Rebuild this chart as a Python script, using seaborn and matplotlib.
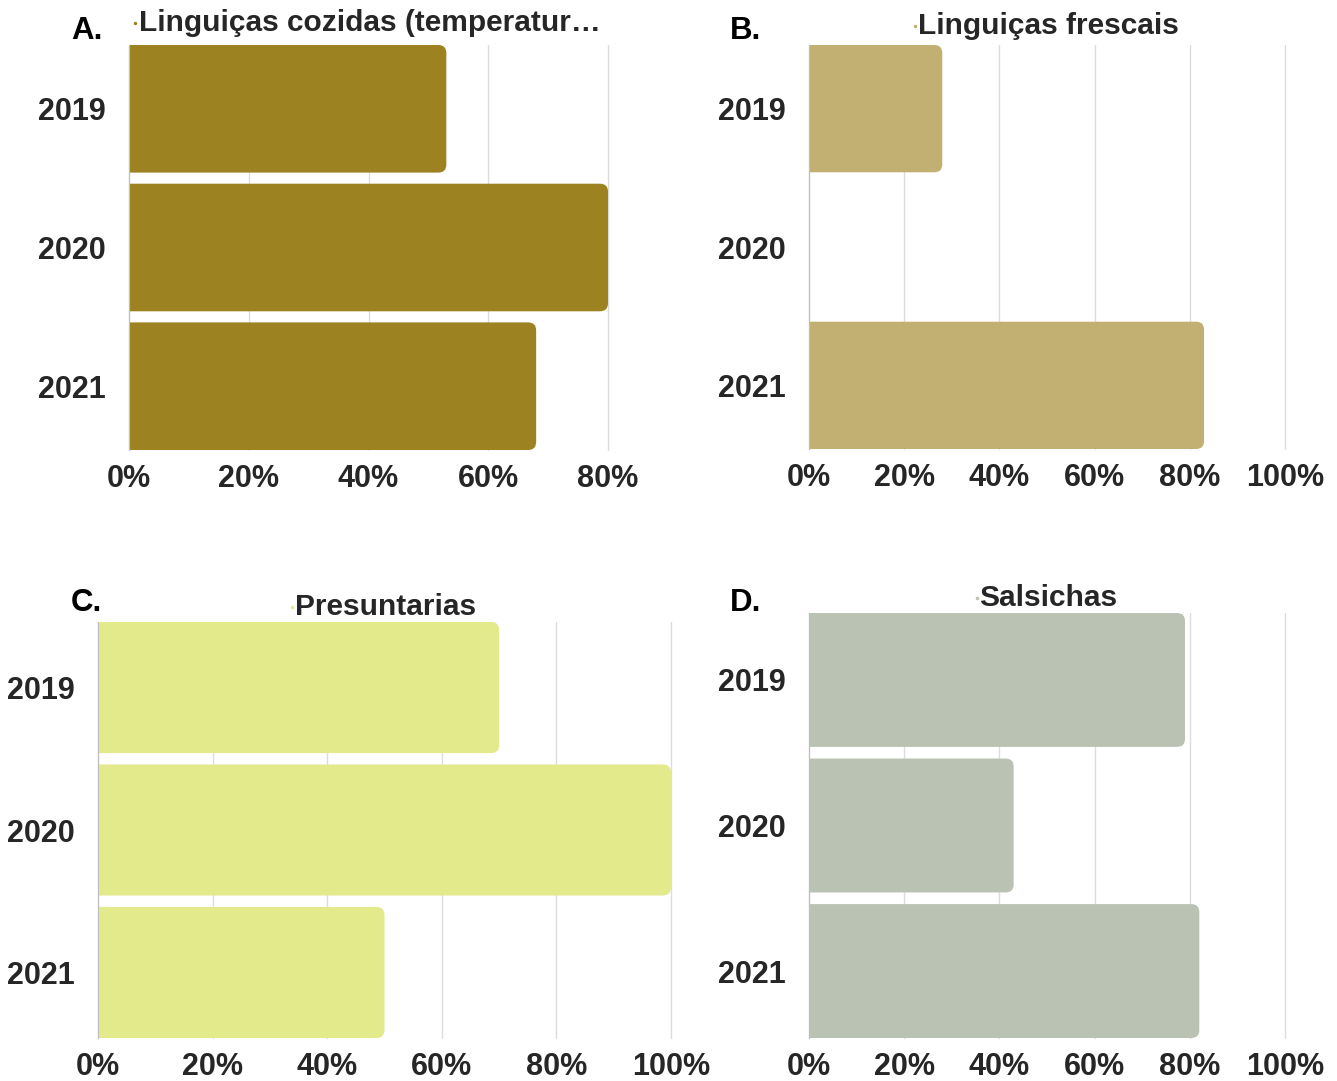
import matplotlib
matplotlib.use("Agg")
import matplotlib.pyplot as plt
import seaborn as sns
import pandas as pd
from matplotlib.patches import FancyBboxPatch
from matplotlib.lines import Line2D

years = ["2019", "2020", "2021"]

cozidas = [53, 80, 68]
frescais = [28, 0, 83]
presuntarias = [70, 100, 50]
salsichas = [79, 43, 82]

panel_letters = ["A.", "B.", "C.", "D."]
titles = ["Linguiças cozidas (temperatur…", "Linguiças frescais", "Presuntarias", "Salsichas"]
colors = ["#9c8220", "#c2b073", "#e3ea8c", "#bac3b3"]
x_max = [80, 100, 100, 100]
x_ticks = [[0, 20, 40, 60, 80], [0, 20, 40, 60, 80, 100],
           [0, 20, 40, 60, 80, 100], [0, 20, 40, 60, 80, 100]]

sns.set_theme(style="white")
plt.rcParams["font.family"] = ["Liberation Sans", "DejaVu Sans"]

W, H = 1337, 1081
fig = plt.figure(figsize=(W / 100, H / 100), dpi=100)

# axes boxes in pixels: left, top, right, bottom
boxes = [(129, 45, 608, 450), (809, 45, 1285, 449),
         (98, 622, 671, 1038), (809, 613, 1285, 1038)]
title_y = [23, 26, 607, 598]
letter_pos = [(71, 31), (730, 31), (71, 603), (730, 603)]
# small legend dot drawn just left of each title
dot_x = [135, 915, 292, 977]

series = [cozidas, frescais, presuntarias, salsichas]
text_col = "#262626"

for i, vals in enumerate(series):
    l, t, r, b = boxes[i]
    ax = fig.add_axes([l / W, 1 - b / H, (r - l) / W, (b - t) / H])
    df = pd.DataFrame({"ano": years, "valor": vals})
    sns.barplot(data=df, x="valor", y="ano", orient="h", color=colors[i],
                width=0.92, saturation=1, ax=ax, zorder=2)
    ax.set_xlim(0, x_max[i])
    ax.set_ylim(2.46, -0.46)
    ax.set_xticks(x_ticks[i])
    ax.set_xticklabels([f"{v}%" for v in x_ticks[i]])
    ax.set_xlabel("")
    ax.set_ylabel("")
    ax.tick_params(axis="x", length=0, pad=10, labelsize=22, labelcolor=text_col)
    ax.tick_params(axis="y", length=0, pad=17, labelsize=22, labelcolor=text_col)
    for lab in ax.get_xticklabels() + ax.get_yticklabels():
        lab.set_fontweight("bold")
    ax.grid(axis="x", color="#dcdcdc", linewidth=1, zorder=0)
    ax.grid(axis="y", visible=False)
    for s in ["top", "right", "bottom"]:
        ax.spines[s].set_visible(False)
    ax.spines["left"].set_color("#bfbfbf")
    ax.spines["left"].set_linewidth(0.8)
    for gl in ax.get_xgridlines():
        gl.set_clip_on(False)

    # rounded right-hand corners on each bar
    x_per_px = x_max[i] / (r - l)
    y_per_px = 2.92 / (b - t)
    rad_px = 8
    rad = rad_px * x_per_px
    for p in list(ax.patches):
        x0, y0 = p.get_x(), p.get_y()
        w, h = p.get_width(), p.get_height()
        if w <= 0:
            p.remove()
            continue
        fb = FancyBboxPatch((x0 - rad, y0), w + rad, h,
                            boxstyle=f"round,pad=0,rounding_size={rad}",
                            mutation_aspect=y_per_px / x_per_px,
                            facecolor=colors[i], edgecolor="none", zorder=2)
        fb.set_clip_path(ax.patch)
        p.remove()
        ax.add_patch(fb)

    cx = (l + r) / 2
    fig.text(cx / W + 0.001, 1 - title_y[i] / H, titles[i], ha="center", va="center",
             fontsize=21.5, fontweight="bold", color=text_col)
    fig.add_artist(Line2D([dot_x[i] / W], [1 - title_y[i] / H], marker="o",
                          markersize=1.5, color=colors[i], linestyle="none"))
    lx, ly = letter_pos[i]
    fig.text(lx / W, 1 - ly / H, panel_letters[i], ha="left", va="center",
             fontsize=22.5, fontweight="bold", color="black")

fig.savefig("out.png", dpi=100, facecolor="white")
